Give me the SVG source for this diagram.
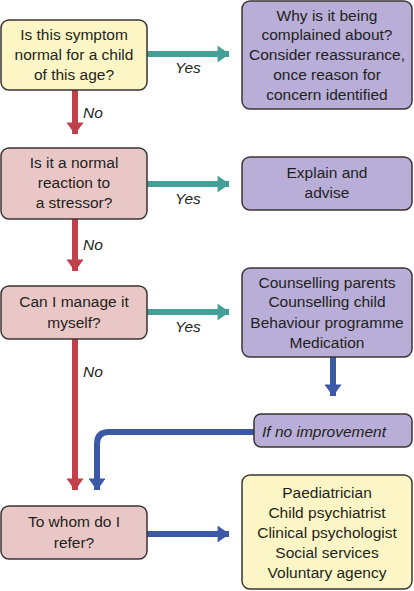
<svg xmlns="http://www.w3.org/2000/svg" width="414" height="591" viewBox="0 0 414 591">
<style>
.box{stroke:#3a3535;stroke-width:1.5}
.y{fill:#fcf6c6}
.p{fill:#e9c7c7}
.v{fill:#b8aed8}
text{font-family:"Liberation Sans",Arial,sans-serif;font-size:15.5px;fill:#231f20;text-anchor:middle}
.lbl{font-style:italic;text-anchor:start}
.it{font-style:italic}
.teal{stroke:#44a096;stroke-width:6;fill:none}
.red{stroke:#c0404c;stroke-width:6;fill:none}
.blue{stroke:#3c59a8;stroke-width:6;fill:none}
</style>
<defs>
<marker id="ht" markerWidth="2.8" markerHeight="2.8" refX="1.9" refY="1.4" orient="auto" markerUnits="strokeWidth" viewBox="0 0 2 2.8"><path d="M0,0 L2,1.4 L0,2.8 Z" fill="#44a096"/></marker>
<marker id="hr" markerWidth="2.8" markerHeight="2.8" refX="1.9" refY="1.4" orient="auto" markerUnits="strokeWidth" viewBox="0 0 2 2.8"><path d="M0,0 L2,1.4 L0,2.8 Z" fill="#c0404c"/></marker>
<marker id="hb" markerWidth="2.8" markerHeight="2.8" refX="1.9" refY="1.4" orient="auto" markerUnits="strokeWidth" viewBox="0 0 2 2.8"><path d="M0,0 L2,1.4 L0,2.8 Z" fill="#3c59a8"/></marker>
</defs>
<g id="connectors">
<path class="teal" d="M147,54 H229" marker-end="url(#ht)"/>
<path class="teal" d="M147,184 H229" marker-end="url(#ht)"/>
<path class="teal" d="M147,312 H229" marker-end="url(#ht)"/>
<path class="red" d="M75,90 V134" marker-end="url(#hr)"/>
<path class="red" d="M75,219 V271" marker-end="url(#hr)"/>
<path class="red" d="M75,339 V490" marker-end="url(#hr)"/>
<path class="blue" d="M333,357 V396" marker-end="url(#hb)"/>
<path class="blue" d="M254,432 H109 Q97,432 97,444 V490" marker-end="url(#hb)"/>
<path class="blue" d="M147,534 H229" marker-end="url(#hb)"/>
<text class="lbl" x="175" y="73">Yes</text>
<text class="lbl" x="175" y="204">Yes</text>
<text class="lbl" x="175" y="332">Yes</text>
<text class="lbl" x="83" y="118">No</text>
<text class="lbl" x="83" y="250">No</text>
<text class="lbl" x="83" y="377">No</text>
</g>
<g id="q1">
<rect class="box y" x="1" y="20" width="146" height="70" rx="8"/>
<text x="74" y="40">Is this symptom</text>
<text x="74" y="60">normal for a child</text>
<text x="74" y="80">of this age?</text>
</g>
<g id="a1">
<rect class="box v" x="242" y="1" width="170" height="108" rx="8"/>
<text x="327" y="21">Why is it being</text>
<text x="327" y="40">complained about?</text>
<text x="327" y="60">Consider reassurance,</text>
<text x="327" y="80">once reason for</text>
<text x="327" y="100">concern identified</text>
</g>
<g id="q2">
<rect class="box p" x="1" y="148" width="146" height="71" rx="8"/>
<text x="74" y="168">Is it a normal</text>
<text x="74" y="188">reaction to</text>
<text x="74" y="208">a stressor?</text>
</g>
<g id="a2">
<rect class="box v" x="242" y="157" width="170" height="53" rx="8"/>
<text x="327" y="178">Explain and</text>
<text x="327" y="198">advise</text>
</g>
<g id="q3">
<rect class="box p" x="1" y="286" width="146" height="53" rx="8"/>
<text x="74" y="307">Can I manage it</text>
<text x="74" y="328">myself?</text>
</g>
<g id="a3">
<rect class="box v" x="242" y="268" width="170" height="89" rx="8"/>
<text x="327" y="288">Counselling parents</text>
<text x="327" y="307">Counselling child</text>
<text x="327" y="328">Behaviour programme</text>
<text x="327" y="348">Medication</text>
</g>
<g id="noimp">
<rect class="box v" x="254" y="414" width="158" height="33" rx="7"/>
<text class="it" x="324" y="437">If no improvement</text>
</g>
<g id="q4">
<rect class="box p" x="1" y="506" width="146" height="53" rx="8"/>
<text x="74" y="527">To whom do I</text>
<text x="74" y="548">refer?</text>
</g>
<g id="a4">
<rect class="box y" x="242" y="475" width="170" height="114" rx="8"/>
<text x="327" y="498">Paediatrician</text>
<text x="327" y="518">Child psychiatrist</text>
<text x="327" y="538">Clinical psychologist</text>
<text x="327" y="558">Social services</text>
<text x="327" y="578">Voluntary agency</text>
</g>
</svg>
